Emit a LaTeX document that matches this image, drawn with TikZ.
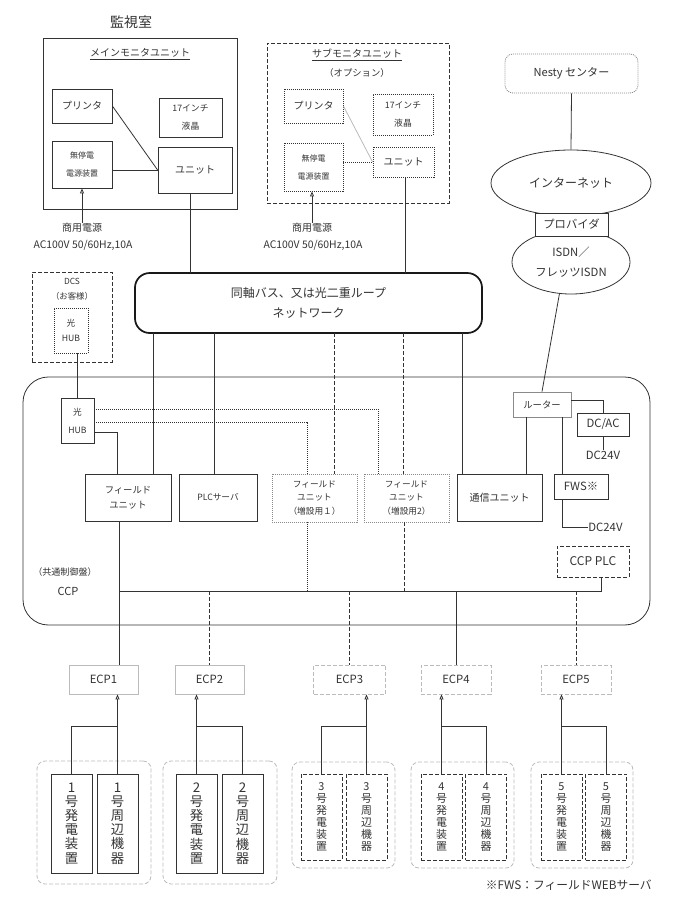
\documentclass[tikz,border=0pt]{standalone}
\usepackage{fontspec}
\setmainfont{Noto Sans CJK JP}
\usetikzlibrary{arrows.meta,positioning,shapes.geometric,calc}
\definecolor{ink}{HTML}{333333}
\definecolor{lgray}{HTML}{BBBBBB}
\definecolor{mgray}{HTML}{8A8A8A}
\newcommand{\fsz}[2]{\fontsize{#1}{#2}\selectfont}

\begin{document}
\begin{tikzpicture}[
  x=0.75pt, y=-0.75pt,
  color=ink, line width=0.6pt,
  sz/.style 2 args={minimum width=#1*0.75pt, minimum height=#2*0.75pt},
  lbl/.style={inner sep=0pt, align=center},
  b/.style={draw=ink, line width=0.6pt, inner sep=0pt, align=center},
  db/.style={b, dash pattern=on 3pt off 1.5pt},
  tb/.style={b, dash pattern=on 0.75pt off 0.75pt},
  gb/.style={b, draw=mgray, dash pattern=on 0.75pt off 0.75pt},
  eb/.style={b, draw=lgray},
  deb/.style={eb, dash pattern=on 3pt off 1.5pt},
  grp/.style={b, draw=lgray, rounded corners=6pt, dash pattern=on 3pt off 1.5pt},
  dl/.style={dash pattern=on 3pt off 1.5pt},
  tl/.style={dash pattern=on 0.75pt off 0.75pt},
  ar/.style={-{Triangle[open,length=3.75pt,width=3pt]}}
]
\useasboundingbox (0,0) rectangle (676,900);

% monitor rooms
\node[lbl, font=\fsz{10.5}{12}] (ttl) at (131,22) {監視室};
\node[b, sz={194}{171}] (mmon) at (140,123.5) {};
\node[lbl, font=\fsz{7.5}{10}] (mmont) at (140,54) {\underline{メインモニタユニット}};
\node[b, sz={60}{34}, font=\fsz{7.5}{10}] (prt1) at (82,106) {プリンタ};
\node[b, sz={63}{39}, font=\fsz{6.6}{13}] (lcd1) at (190.5,117.5) {17インチ\\液晶};
\node[b, sz={60}{47}, font=\fsz{6}{13.5}] (ups1) at (82,164.5) {無停電\\電源装置};
\node[b, sz={74}{46}, font=\fsz{7.5}{10}] (unit1) at (195,170) {ユニット};
\draw (prt1.east) -- (unit1.west);
\draw (ups1.east |- unit1.west) -- (unit1.west);
\node[lbl, font=\fsz{7.5}{10}] (pw1) at (82,228) {商用電源};
\node[lbl, font=\fsz{7.8}{10}] (ac1) at (83,245) {AC100V 50/60Hz,10A};
\draw[ar] (pw1.north) -- (ups1.south);

\node[db, sz={182}{160}] (smon) at (358,123) {};
\node[lbl, font=\fsz{7.5}{10}] (smont) at (357,55) {\underline{サブモニタユニット}};
\node[lbl, font=\fsz{7}{10}] (smono) at (357,73) {（オプション）};
\node[tb, sz={59}{34}, font=\fsz{7.5}{10}] (prt2) at (313.5,106) {プリンタ};
\node[tb, sz={60}{41}, font=\fsz{6.6}{13}] (lcd2) at (403,114.5) {17インチ\\液晶};
\node[tb, sz={59}{48}, font=\fsz{6}{13.5}] (ups2) at (313.5,167) {無停電\\電源装置};
\node[tb, sz={61}{30}, font=\fsz{7.5}{10}] (unit2) at (403.5,162) {ユニット};
\draw[lgray] (prt2.east) -- (unit2.west);
\draw[tl] (ups2.east |- unit2.west) -- (unit2.west);
\node[lbl, font=\fsz{7.5}{10}] (pw2) at (312,228) {商用電源};
\node[lbl, font=\fsz{7.8}{10}] (ac2) at (313,245) {AC100V 50/60Hz,10A};
\draw[ar] (pw2.north) -- (pw2.north |- ups2.south);

% outside line
\node[b, draw=mgray, rounded corners=6pt, dash pattern=on 0.75pt off 0.75pt, sz={133}{39}, font=\fsz{8.3}{10}] (nesty) at (571.5,73.5) {Nesty センター};
\node[b, ellipse, sz={160}{66}, font=\fsz{9}{12}] (inet) at (571,183) {インターネット};
\node[b, ellipse, sz={118}{64}, font=\fsz{8.5}{14.5}] (isdn) at (571,262) {ISDN／\\フレッツISDN};
\node[b, fill=white, sz={73}{23}, font=\fsz{8.5}{10}] (prov) at (571.5,224.5) {プロバイダ};
\draw (nesty.south) -- (inet.north);

% network
\node[b, draw=black!90, line width=1.3pt, rounded corners=11pt, sz={347}{60}, font=\fsz{9}{15}] (net) at (308.5,303) {同軸バス、又は光二重ループ\\ネットワーク};
\coordinate (nt1) at (190,273);
\coordinate (nt2) at (405,273);
\coordinate (nb1) at (153,333);
\coordinate (nb2) at (214,333);
\coordinate (nb3) at (334,333);
\coordinate (nb4) at (403,333);
\coordinate (nb5) at (462,333);
\draw (nt1 |- unit1.south) -- (nt1);
\draw (nt2 |- unit2.south) -- (nt2);

\node[db, sz={80}{90}] (dcs) at (72,317) {};
\node[lbl, font=\fsz{6.3}{11}] (dcst) at (72,289) {DCS\\（お客様）};
\node[tb, sz={34}{45}, font=\fsz{6.5}{11.5}] (dhub) at (71,330.5) {光\\HUB};

% CCP
\node[b, rounded corners=19pt, sz={627}{248}] (ccp) at (336.5,501) {};
\node[lbl, font=\fsz{6.8}{10}] (ccpt1) at (65,572) {（共通制御盤）};
\node[lbl, font=\fsz{8.3}{10}] (ccpt2) at (68,591) {CCP};

\node[b, sz={33}{45}, font=\fsz{6.5}{13.5}] (chub) at (77.5,420.5) {光\\HUB};
\draw (dhub.south -| chub.north) -- (chub.north);

\node[b, sz={86}{47}, font=\fsz{7}{11}] (fu) at (128,497.5) {フィールド\\ユニット};
\node[b, sz={78}{47}, font=\fsz{6.5}{10}] (plc) at (218,497.5) {PLCサーバ};
\node[gb, sz={85}{48}, font=\fsz{6.5}{10}] (fu1) at (314.5,498) {フィールド\\ユニット\\（増設用１）};
\node[gb, sz={85}{48}, font=\fsz{6.5}{10}] (fu2) at (406.5,498) {フィールド\\ユニット\\（増設用2）};
\node[b, sz={85}{47}, font=\fsz{7.5}{10}] (comm) at (499.5,497.5) {通信ユニット};

\draw (nb1) -- (nb1 |- fu.north);
\draw (nb2) -- (nb2 |- plc.north);
\draw[dl] (nb3) -- (nb3 |- fu1.north);
\draw[dl] (nb4) -- (nb4 |- fu2.north);
\draw (nb5) -- (nb5 |- comm.north);

\draw[tl] ($(chub.east)+(0,-11.5)$) -| ($(fu2.north)+(-28.5,0)$);
\draw[tl] ($(chub.east)+(0,1.5)$) -| ($(fu1.north)+(-7.5,0)$);
\draw ($(chub.east)+(0,11.5)$) -| ($(fu.north)+(-11,0)$);

\node[b, draw=mgray, sz={58}{25}, font=\fsz{7}{10}] (rtr) at (542,404.5) {ルーター};
\node[b, sz={52}{23}, font=\fsz{8.5}{10}] (dcac) at (603,424.5) {DC/AC};
\node[lbl, font=\fsz{8.5}{10}] (dc1) at (603,455) {DC24V};
\node[b, sz={54}{25}, font=\fsz{8.5}{10}] (fws) at (581,486.5) {FWS※};
\node[lbl, font=\fsz{8.5}{10}, anchor=west] (dc2) at (588,527) {DC24V};
\node[db, sz={72}{31}, font=\fsz{9}{10}] (cplc) at (593,561.5) {CCP PLC};

\draw (isdn.250) -- (rtr.north);
\draw ($(rtr.east)+(0,-4.5)$) -| (dcac.north);
\draw (dcac.south) -- (dc1.north);
\coordinate (r1) at ($(rtr.south)+(-16,0)$);
\coordinate (r2) at ($(rtr.south)+(20,0)$);
\draw (r1) -- (r1 |- comm.north);
\draw (r2) -- (r2 |- fws.north);
\draw (r2 |- fws.south) |- (dc2.west);

% ECP
\node[eb, sz={69}{29}, font=\fsz{8.5}{10}] (ecp1) at (103.5,679.5) {ECP1};
\node[eb, sz={69}{29}, font=\fsz{8.5}{10}] (ecp2) at (209.5,679.5) {ECP2};
\node[deb, sz={72}{29}, font=\fsz{8.5}{10}] (ecp3) at (349.5,679.5) {ECP3};
\node[deb, sz={70}{29}, font=\fsz{8.5}{10}] (ecp4) at (456,679.5) {ECP4};
\node[deb, sz={70}{29}, font=\fsz{8.5}{10}] (ecp5) at (576,679.5) {ECP5};

\coordinate (b1) at (119,591);
\coordinate (b3) at (307,591);
\coordinate (b4) at (404,591);
\coordinate (b6) at (601,591);
\draw (b1 |- fu.south) -- (b1 |- ecp1.north);
\draw (b1) -- (b6) -- (b6 |- cplc.south);
\draw[tl] (b3 |- fu1.south) -- (b3);
\draw[dl] (b4 |- fu2.south) -- (b4);
\draw[dl] (b1 -| ecp2.north) -- (ecp2.north);
\draw[dl] (b1 -| ecp3.north) -- (ecp3.north);
\draw (b1 -| ecp4.north) -- (ecp4.north);
\draw[dl] (b1 -| ecp5.north) -- (ecp5.north);

% devices
\node[grp, sz={114}{123}] (g1) at (94,822.5) {};
\node[grp, sz={114}{123}] (g2) at (220,822.5) {};
\node[grp, sz={103}{106}] (g3) at (343.5,815) {};
\node[grp, sz={103}{106}] (g4) at (462.5,815) {};
\node[grp, sz={102}{106}] (g5) at (582,815) {};

\node[b, sz={41}{99}, font=\fsz{10}{10.6}] (d1a) at (71.5,823.5) {1\\号\\発\\電\\装\\置};
\node[b, sz={41}{99}, font=\fsz{10}{10.6}] (d1b) at (117.5,823.5) {1\\号\\周\\辺\\機\\器};
\node[b, sz={41}{99}, font=\fsz{10}{10.6}] (d2a) at (196.5,823.5) {2\\号\\発\\電\\装\\置};
\node[b, sz={41}{99}, font=\fsz{10}{10.6}] (d2b) at (242.5,823.5) {2\\号\\周\\辺\\機\\器};
\node[db, sz={41}{86}, font=\fsz{8.2}{8.9}] (d3a) at (321.5,817) {3\\号\\発\\電\\装\\置};
\node[db, sz={41}{86}, font=\fsz{8.2}{8.9}] (d3b) at (366.5,817) {3\\号\\周\\辺\\機\\器};
\node[db, sz={41}{86}, font=\fsz{8.2}{8.9}] (d4a) at (441.5,817) {4\\号\\発\\電\\装\\置};
\node[db, sz={41}{86}, font=\fsz{8.2}{8.9}] (d4b) at (486,817) {4\\号\\周\\辺\\機\\器};
\node[db, sz={41}{86}, font=\fsz{8.2}{8.9}] (d5a) at (561.5,817) {5\\号\\発\\電\\装\\置};
\node[db, sz={41}{86}, font=\fsz{8.2}{8.9}] (d5b) at (606,817) {5\\号\\周\\辺\\機\\器};

\draw (d1a.north) -- ++(0,-47) -| (d1b.north);
\draw[ar] (d1b.north) -- (d1b.north |- ecp1.south);
\draw (d2b.north) -- ++(0,-47) -| (d2a.north);
\draw[ar] (d2a.north) -- (d2a.north |- ecp2.south);
\draw (d3a.north) -- ++(0,-47) -| (d3b.north);
\draw[ar] (d3b.north) -- (d3b.north |- ecp3.south);
\draw (d4b.north) -- ++(0,-47) -| (d4a.north);
\draw[ar] (d4a.north) -- (d4a.north |- ecp4.south);
\draw (d5b.north) -- ++(0,-47) -| (d5a.north);
\draw[ar] (d5a.north) -- (d5a.north |- ecp5.south);

\node[lbl, font=\fsz{8.8}{10}, anchor=east] (note) at (652,885) {※FWS：フィールドWEBサーバ};
\end{tikzpicture}
\end{document}
